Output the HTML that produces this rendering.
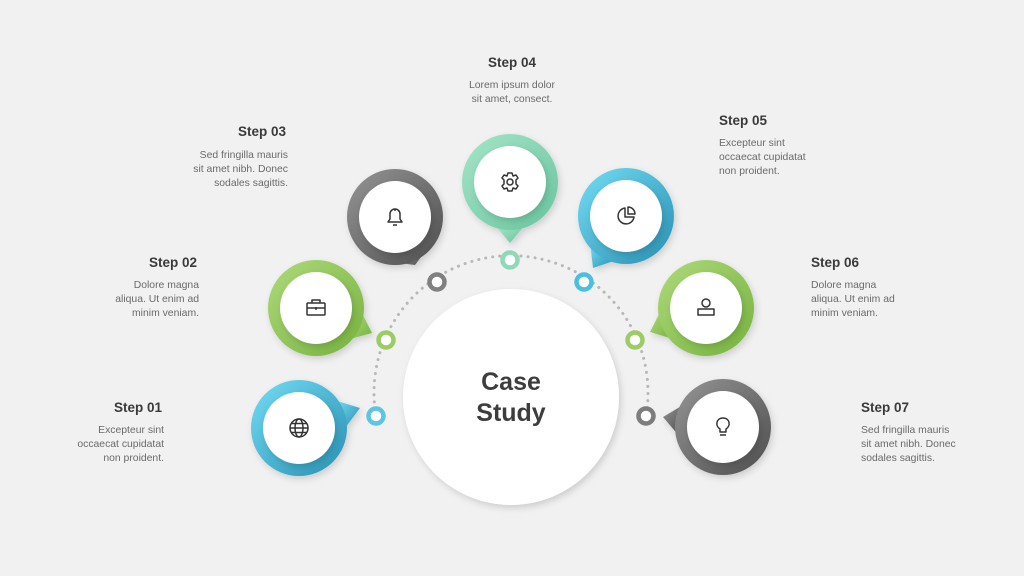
<!DOCTYPE html>
<html><head><meta charset="utf-8"><style>
body{margin:0;width:1024px;height:576px;background:#f1f1f1;overflow:hidden;position:relative;font-family:"Liberation Sans",sans-serif}
.t{position:absolute;font-weight:bold;font-size:13.5px;color:#3a3a3a}
.b{position:absolute;font-size:10.4px;line-height:14px;color:#6a6a6a}
.r{text-align:right}.c{text-align:center}
svg{position:absolute;left:0;top:0}
</style></head><body>
<svg id="s" width="1024" height="576" viewBox="0 0 1024 576">
<defs>
<linearGradient id="gb" x1="0" y1="0" x2="1" y2="1"><stop offset="0" stop-color="#74dcf4"/><stop offset="1" stop-color="#2890b2"/></linearGradient>
<linearGradient id="gg" x1="0" y1="0" x2="1" y2="1"><stop offset="0" stop-color="#aed97a"/><stop offset="1" stop-color="#76b33f"/></linearGradient>
<linearGradient id="gk" x1="0" y1="0" x2="1" y2="1"><stop offset="0" stop-color="#959595"/><stop offset="1" stop-color="#4e4e4e"/></linearGradient>
<linearGradient id="gm" x1="0" y1="0" x2="1" y2="1"><stop offset="0" stop-color="#a6e4c9"/><stop offset="1" stop-color="#68c59f"/></linearGradient>
<filter id="sh" x="-30%" y="-30%" width="160%" height="160%"><feDropShadow dx="2" dy="3" stdDeviation="3.5" flood-color="#000" flood-opacity="0.15"/></filter>
</defs>
<path d="M376,416 A137,137 0 1 1 646,416" fill="none" stroke="#b8b8b8" stroke-width="3" stroke-dasharray="0.1 7" stroke-linecap="round"/>
<circle cx="511" cy="397" r="108" fill="#fff" filter="url(#sh)"/>
<text x="511" y="390" text-anchor="middle" font-family="Liberation Sans" font-weight="bold" font-size="25" fill="#3d3d3d">Case</text>
<text x="511" y="421" text-anchor="middle" font-family="Liberation Sans" font-weight="bold" font-size="25" fill="#3d3d3d">Study</text>
<g id="g"></g>
</svg>
<div class="t r" style="right:862px;top:400px">Step 01</div>
<div class="b r" style="right:860px;top:424px">Excepteur sint<br>occaecat cupidatat<br>non proident.</div>
<div class="t r" style="right:827px;top:255px">Step 02</div>
<div class="b r" style="right:825px;top:279px">Dolore magna<br>aliqua. Ut enim ad<br>minim veniam.</div>
<div class="t r" style="right:738px;top:124px">Step 03</div>
<div class="b r" style="right:736px;top:149px">Sed fringilla mauris<br>sit amet nibh. Donec<br>sodales sagittis.</div>
<div class="t c" style="left:412px;width:200px;top:55px">Step 04</div>
<div class="b c" style="left:412px;width:200px;top:79px">Lorem ipsum dolor<br>sit amet, consect.</div>
<div class="t" style="left:719px;top:113px">Step 05</div>
<div class="b" style="left:719px;top:137px">Excepteur sint<br>occaecat cupidatat<br>non proident.</div>
<div class="t" style="left:811px;top:255px">Step 06</div>
<div class="b" style="left:811px;top:279px">Dolore magna<br>aliqua. Ut enim ad<br>minim veniam.</div>
<div class="t" style="left:861px;top:400px">Step 07</div>
<div class="b" style="left:861px;top:424px">Sed fringilla mauris<br>sit amet nibh. Donec<br>sodales sagittis.</div>
<script>
var B=[[299,428,360,408,376,416,'gb','#5cc6e2','globe'],[316,308,372,333,386,340,'gg','#9ccc65','case'],[395,217,415,265,437,282,'gk','#808080','bell'],[510,182,510,243,510,260,'gm','#8fd8b8','gear'],[626,216,593,268,584,282,'gb','#4cbfe0','pie'],[706,308,650,332,635,340,'gg','#9ccc65','user'],[723,427,663,417,646,416,'gk','#7d7d7d','bulb']];
var I={globe:'<circle r="9"/><ellipse rx="4" ry="9"/><path d="M-9 0H9M-8 -4.5H8M-8 4.5H8"/>',
case:'<rect x="-9" y="-5" width="18" height="12" rx="1"/><path d="M-4 -5V-8H4V-5M-9 0H9M0 -1V2"/>',
bell:'<path d="M-7 5H7L5 2V-3A5 5 0 0 0 -5 -3V2Z M-2 8H2M0 -8V-6"/>',
gear:'<circle r="3"/><path d="M-2 -9H2L3 -6L6 -7L8 -4L6 -2V2L8 4L6 7L3 6L2 9H-2L-3 6L-6 7L-8 4L-6 2V-2L-8 -4L-6 -7L-3 -6Z"/>',
pie:'<path d="M-1 -8A8 8 0 1 0 8 1H-1Z M2 -9V-2H9A7 7 0 0 0 2 -9Z"/>',
user:'<circle cy="-5" r="4"/><rect x="-8" y="1" width="16" height="6"/>',
bulb:'<path d="M-3 5V2C-8 -1 -7 -9 0 -9C7 -9 8 -1 3 2V5Z M-3 8H3"/>'};
var h='';B.forEach(function(b){var cx=b[0],cy=b[1],tx=b[2],ty=b[3],a=Math.atan2(ty-cy,tx-cx),R=48,d=0.32;
var p1=[cx+(R-2)*Math.cos(a-d),cy+(R-2)*Math.sin(a-d)],p2=[cx+(R-2)*Math.cos(a+d),cy+(R-2)*Math.sin(a+d)];
h+='<g filter="url(#sh)"><polygon points="'+p1+' '+tx+','+ty+' '+p2+'" fill="url(#'+b[6]+')"/><circle cx="'+cx+'" cy="'+cy+'" r="'+R+'" fill="url(#'+b[6]+')"/></g>';
h+='<circle cx="'+cx+'" cy="'+cy+'" r="36" fill="#fff" filter="url(#sh)"/>';
h+='<g transform="translate('+cx+','+cy+')" fill="none" stroke="#333" stroke-width="1.5" stroke-linejoin="round">'+I[b[8]]+'</g>';
h+='<circle cx="'+b[4]+'" cy="'+b[5]+'" r="7.5" fill="#fff" stroke="'+b[7]+'" stroke-width="4.5"/>';});
document.getElementById('g').innerHTML=h;
</script>
</body></html>
